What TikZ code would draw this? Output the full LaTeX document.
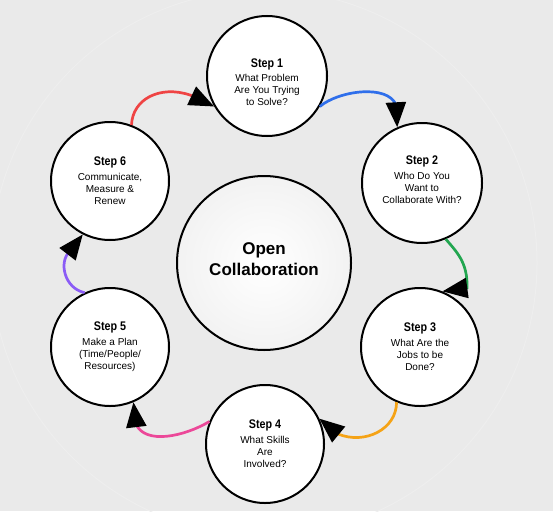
\documentclass[tikz,border=0pt]{standalone}
\usepackage{fontspec}
\setmainfont{Liberation Sans}
\newfontfamily\titlefont[FakeStretch=0.86]{Liberation Sans Bold}
\usetikzlibrary{arrows.meta}
\definecolor{bg}{HTML}{EAEAEA}
\definecolor{ring}{HTML}{EEEEEE}
\definecolor{cblue}{HTML}{2F6FEB}
\definecolor{cgreen}{HTML}{22A650}
\definecolor{corange}{HTML}{F5A316}
\definecolor{cpink}{HTML}{EC4899}
\definecolor{cpurple}{HTML}{8B5CF6}
\definecolor{cred}{HTML}{EF4444}
\newcommand{\steptitle}[1]{{\titlefont\fontsize{12.5}{14}\selectfont #1}\\[2pt]}
\newcommand{\upstrut}[1]{\rule{0pt}{#1}}
\newcommand{\downstrut}[1]{\rule[-#1]{0pt}{#1}}
\begin{document}
\begin{tikzpicture}[x=1pt,y=-1pt,
  stepnode/.style={circle, draw=black, line width=2pt, fill=white,
    minimum size=118pt, inner sep=0pt, align=center,
    font=\fontsize{10}{12.3}\selectfont},
  bignode/.style={circle, draw=black, line width=2pt,
    inner color=white, outer color=black!5,
    minimum size=174pt, inner sep=0pt, align=center,
    font=\bfseries\fontsize{17}{21}\selectfont},
  conn/.style={line width=2.7pt,
    -{Triangle[length=25pt,width=20pt,color=black]}}
]
\useasboundingbox (0,0) rectangle (553,511);
\fill[bg] (0,0) rectangle (553,511);
\draw[ring, line width=1pt] (264,263) circle[radius=273];

\node[bignode] (c) at (264,263) {Open\\Collaboration\downstrut{8pt}};

\node[stepnode, minimum size=120pt] (s1) at (267,76)
  {\steptitle{\upstrut{21pt}Step 1}What Problem\\Are You Trying\\to Solve?};
\node[stepnode, minimum size=120pt] (s2) at (422,183)
  {\steptitle{Step 2}Who Do You\\Want to\\Collaborate With?\downstrut{6pt}};
\node[stepnode] (s3) at (420,347)
  {\steptitle{Step 3}What Are the\\Jobs to be\\Done?};
\node[stepnode] (s4) at (265,444)
  {\steptitle{Step 4}What Skills\\Are\\Involved?};
\node[stepnode] (s5) at (110,347)
  {\steptitle{Step 5}Make a Plan\\(Time/People/\\Resources)};
\node[stepnode] (s6) at (110,181)
  {\steptitle{Step 6}Communicate,\\Measure \&\\Renew};

\coordinate (b12) at (396,105);
\coordinate (b23) at (467,288);
\coordinate (b34) at (338,434);
\coordinate (b45) at (136,424);
\coordinate (b56) at (70,251);
\coordinate (b61) at (190,95);

\draw[conn, cblue] (s1.-30) .. controls +(19,-16) and +(-8,-21) .. (b12) -- (s2.114);
\draw[conn, cgreen] (s2.-67) .. controls +(10,12) and +(1,-26) .. (b23) -- (s3.68);
\draw[conn, corange] (s3.-113) .. controls +(0,27) and +(27,11) .. (b34) -- (s4.25);
\draw[conn, cpink] (s4.158) .. controls +(-25,15) and +(9,21) .. (b45) -- (s5.-67);
\draw[conn, cpurple] (s5.115) .. controls +(-20,-4) and +(-12,11) .. (b56) -- (s6.-117);
\draw[conn, cred] (s6.69) .. controls +(1,-26) and +(-30,-10) .. (b61) -- (s1.210);
\end{tikzpicture}
\end{document}
